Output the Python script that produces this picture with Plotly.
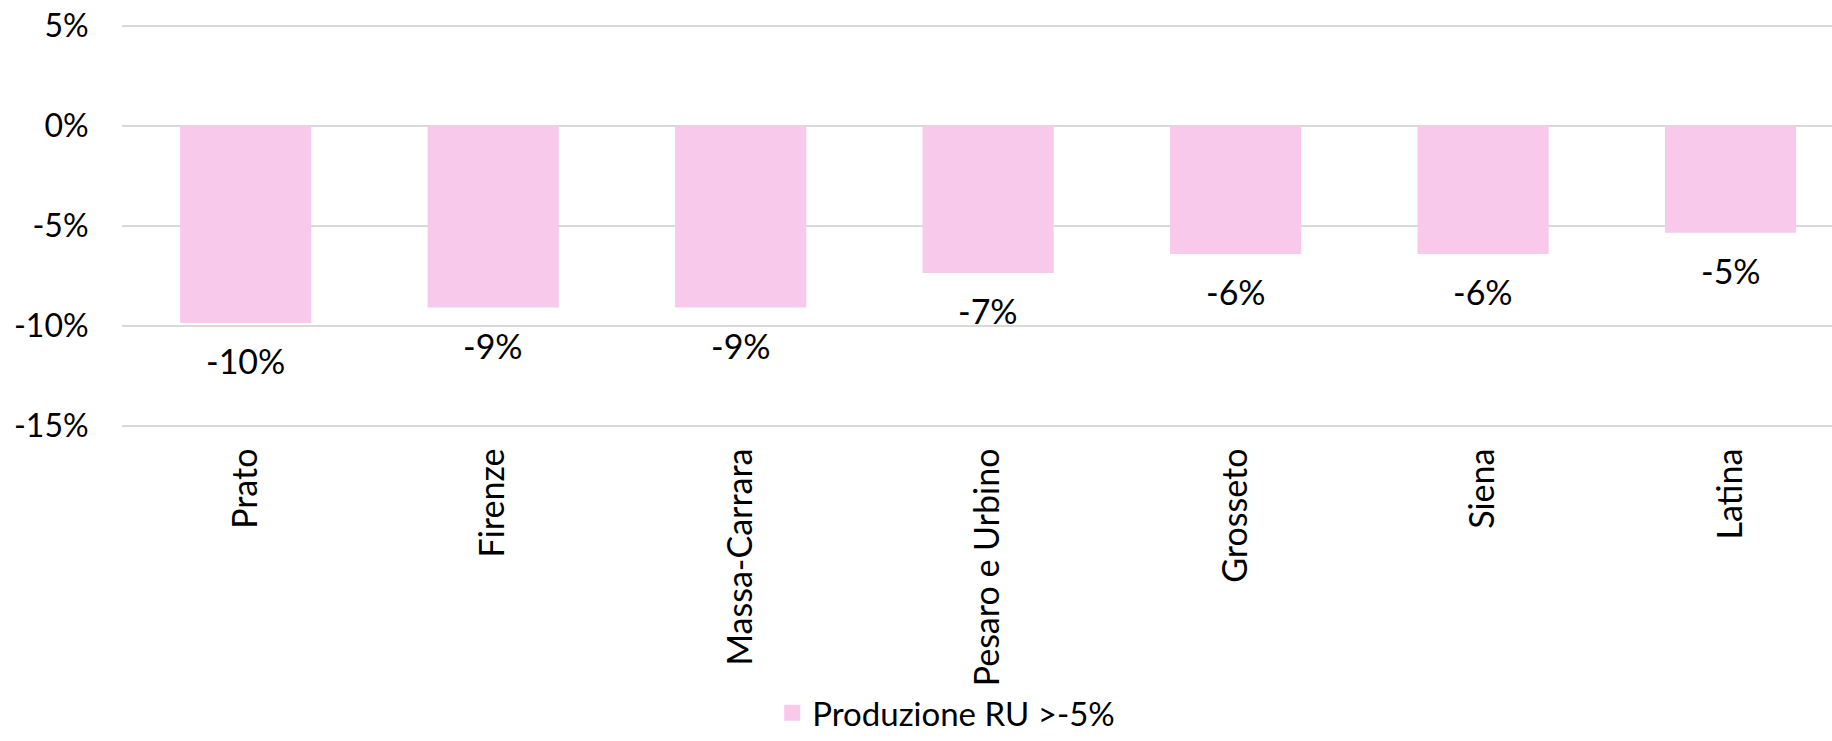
import plotly.graph_objects as go

# dati
province = ["Prato", "Firenze", "Massa-Carrara", "Pesaro e Urbino", "Grosseto", "Siena", "Latina"]
variazione = [-9.85, -9.08, -9.08, -7.35, -6.40, -6.40, -5.34]
serie_nome = "Produzione RU >-5%"
y_ticks = [5, 0, -5, -10, -15]
y_tick_labels = ["5%", "0%", "-5%", "-10%", "-15%"]

_FONT = dict(family="Lato, Carlito, sans-serif", size=32, color="#000000")
_PINK = "#F8C9EB"
_GRID = "#D9D9D9"

fig = go.Figure()
fig.add_trace(go.Bar(
    x=province,
    y=variazione,
    name=serie_nome,
    marker=dict(color=_PINK, line=dict(width=0)),
    showlegend=False,
))
# voce di legenda con quadrato più grande
fig.add_trace(go.Scatter(
    x=[None], y=[None], mode="markers", name=serie_nome,
    marker=dict(symbol="square", size=21, color=_PINK),
    showlegend=True,
))

# etichette valori sotto le barre
for p, v in zip(province, variazione):
    fig.add_annotation(
        x=p, y=v, text=f"{round(v):.0f}%",
        showarrow=False, yanchor="top", yshift=-15,
        font=dict(size=34, color="#000000"),
    )

fig.update_layout(
    width=1832, height=741,
    font=_FONT,
    plot_bgcolor="white", paper_bgcolor="white",
    margin=dict(l=122, r=0, t=24, b=313, autoexpand=False),
    bargap=0.47,
    showlegend=True,
    legend=dict(
        orientation="h", x=0.482, xanchor="center",
        y=-0.705, yanchor="middle",
        font=dict(size=33),
        itemwidth=30,
    ),
    xaxis=dict(
        range=[-0.5, 6.41],
        tickangle=-90,
        showgrid=False, showline=False, zeroline=False,
        ticks="outside", ticklen=6, tickcolor="rgba(0,0,0,0)",
        tickfont=dict(size=34),
        automargin=False,
    ),
    yaxis=dict(
        range=[-15.1, 5.1],
        tickvals=y_ticks, ticktext=y_tick_labels,
        showgrid=True, gridcolor=_GRID, gridwidth=2,
        zeroline=True, zerolinecolor=_GRID, zerolinewidth=2,
        showline=False,
        ticks="outside", ticklen=26, tickcolor="rgba(0,0,0,0)",
        tickfont=dict(size=32),
        ticklabeloverflow="allow",
        automargin=False,
    ),
)

# niente margine del body, così la figura riempie esattamente la finestra
fig.write_html(
    "out.html",
    config={"displayModeBar": False},
    post_script="document.body.style.margin='0';",
)
